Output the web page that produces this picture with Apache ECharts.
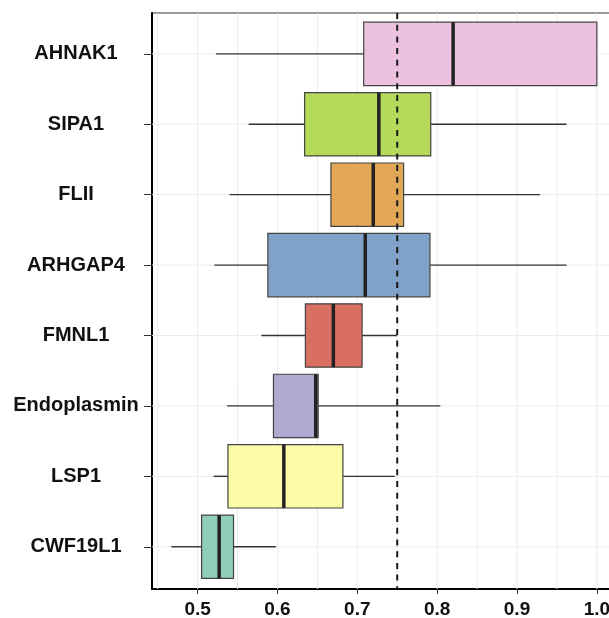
<!DOCTYPE html>
<html>
<head>
<meta charset="utf-8">
<script src="https://cdn.jsdelivr.net/npm/echarts@6/dist/echarts.min.js"></script>
<style>
html,body{margin:0;padding:0;background:#fff;}
#c{width:609px;height:618px;}
</style>
</head>
<body>
<div id="c"></div>
<script>
// ---- data ----
const categories = ['AHNAK1', 'SIPA1', 'FLII', 'ARHGAP4', 'FMNL1', 'Endoplasmin', 'LSP1', 'CWF19L1'];
const whiskerLow  = [0.523, 0.564, 0.540, 0.521, 0.580, 0.537, 0.520, 0.467];
const q1          = [0.708, 0.634, 0.667, 0.588, 0.635, 0.595, 0.538, 0.505];
const median      = [0.820, 0.727, 0.720, 0.710, 0.670, 0.648, 0.608, 0.527];
const q3          = [1.000, 0.792, 0.758, 0.791, 0.706, 0.651, 0.682, 0.545];
const whiskerHigh = [1.000, 0.962, 0.929, 0.962, 0.750, 0.804, 0.747, 0.598];
const boxColors = ['#EBC1DF', '#B5D95A', '#E3A857', '#80A1C8', '#D96E62', '#AFA8D1', '#FBFBA8', '#90CDBA'];
const xTickValues = [0.5, 0.6, 0.7, 0.8, 0.9, 1.0];
const xGridValues = [0.45, 0.5, 0.55, 0.6, 0.65, 0.7, 0.75, 0.8, 0.85, 0.9, 0.95, 1.0];
const refLineValue = 0.75;

const catIndex = categories.map((c, i) => i);
const boxData = categories.map((c, i) => [i, whiskerLow[i], q1[i], median[i], q3[i], whiskerHigh[i]]);

const chart = echarts.init(document.getElementById('c'), null, {renderer: 'canvas'});
const font = 'Liberation Sans, Arial, Helvetica, sans-serif';

function vLine(stroke, width, dash) {
  return function (params, api) {
    const cs = params.coordSys;
    const p = api.coord([api.value(0), 0]);
    const style = {stroke: stroke, lineWidth: width};
    if (dash) style.lineDash = dash;
    return {type: 'line', shape: {x1: p[0], y1: cs.y, x2: p[0], y2: cs.y + cs.height}, style: style};
  };
}

const option = {
  animation: false,
  backgroundColor: '#ffffff',
  grid: {
    left: 152, top: 13, width: 466, height: 576,
    containLabel: false,
    outerBoundsMode: 'none',
    show: true, borderColor: '#333', borderWidth: 1, backgroundColor: '#fff'
  },
  xAxis: {
    type: 'value',
    position: 'bottom',
    min: 0.4429, max: 1.0265,
    axisLine: {show: true, onZero: false, lineStyle: {color: '#000', width: 2}},
    axisTick: {show: true, length: 5, customValues: xTickValues, lineStyle: {color: '#333', width: 1}},
    axisLabel: {
      show: true, customValues: xTickValues, margin: 11,
      color: '#111', fontFamily: font, fontWeight: 'bold', fontSize: 19,
      formatter: v => v.toFixed(1)
    },
    splitLine: {show: false}
  },
  yAxis: {
    type: 'value',
    position: 'left',
    inverse: true,
    min: -0.58, max: 7.6,
    axisLine: {show: true, onZero: false, lineStyle: {color: '#000', width: 2}},
    axisTick: {show: true, length: 8, customValues: catIndex, lineStyle: {color: '#333', width: 1}},
    axisLabel: {
      show: true, customValues: catIndex, margin: 76, align: 'center',
      color: '#111', fontFamily: font, fontWeight: 'bold', fontSize: 20,
      formatter: v => categories[Math.round(v)]
    },
    splitLine: {show: false}
  },
  series: [
    {
      type: 'custom', z: 1, silent: true,
      data: xGridValues.map(v => [v]),
      encode: {x: 0},
      renderItem: vLine('#ebebeb', 1)
    },
    {
      type: 'custom', z: 1, silent: true,
      data: catIndex.map(i => [i]),
      encode: {y: 0},
      renderItem: function (params, api) {
        const cs = params.coordSys;
        const p = api.coord([0.5, api.value(0)]);
        return {type: 'line', shape: {x1: cs.x, y1: p[1], x2: cs.x + cs.width, y2: p[1]},
          style: {stroke: '#ebebeb', lineWidth: 1}};
      }
    },
    {
      type: 'custom', z: 2,
      data: boxData,
      encode: {x: [1, 2, 3, 4, 5], y: 0},
      renderItem: function (params, api) {
        const i = api.value(0);
        const lo = api.coord([api.value(1), i]);
        const b1 = api.coord([api.value(2), i]);
        const md = api.coord([api.value(3), i]);
        const b3 = api.coord([api.value(4), i]);
        const hi = api.coord([api.value(5), i]);
        const band = api.size([0, 1])[1];
        const h = band * 0.9;
        const y = lo[1];
        return {
          type: 'group',
          children: [
            {type: 'line', shape: {x1: lo[0], y1: y, x2: b1[0], y2: y}, style: {stroke: '#333', lineWidth: 1.4}},
            {type: 'line', shape: {x1: b3[0], y1: y, x2: hi[0], y2: y}, style: {stroke: '#333', lineWidth: 1.4}},
            {type: 'rect', shape: {x: b1[0], y: y - h / 2, width: b3[0] - b1[0], height: h},
              style: {fill: boxColors[params.dataIndex], stroke: '#444', lineWidth: 1.2}},
            {type: 'rect', shape: {x: md[0] - 1.75, y: y - h / 2, width: 3.5, height: h},
              style: {fill: '#222'}}
          ]
        };
      }
    },
    {
      type: 'custom', z: 3, silent: true,
      data: [[refLineValue]],
      encode: {x: 0},
      renderItem: vLine('#1a1a1a', 2, [6, 5.7])
    }
  ]
};
chart.setOption(option);
</script>
</body>
</html>
